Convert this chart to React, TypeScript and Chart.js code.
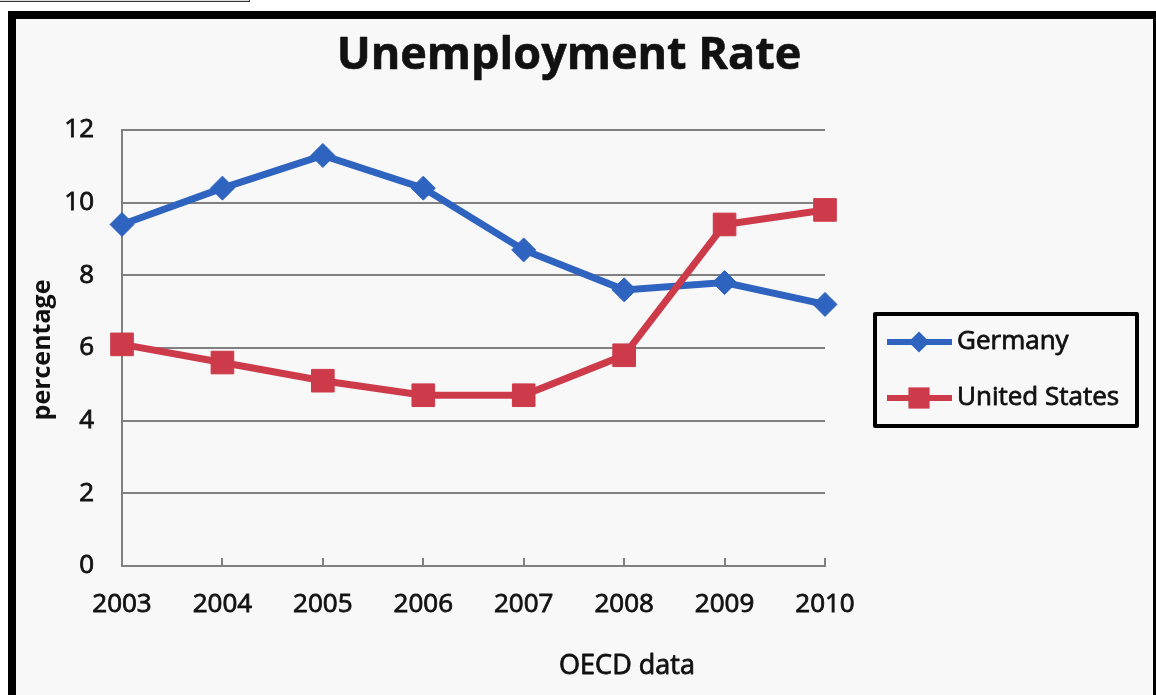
import React, { useEffect, useRef } from 'react';
import { Chart, registerables } from 'chart.js';

Chart.register(...registerables);

// ---- data ----
const chartTitle = 'Unemployment Rate';
const yAxisTitle = 'percentage';
const xAxisTitle = 'OECD data';
const years = ['2003', '2004', '2005', '2006', '2007', '2008', '2009', '2010'];
const germany = [9.4, 10.4, 11.3, 10.4, 8.7, 7.6, 7.8, 7.2];
const unitedStates = [6.1, 5.6, 5.1, 4.7, 4.7, 5.8, 9.4, 9.8];
const seriesNames = ['Germany', 'United States'];
const yMin = 0;
const yMax = 12;
const yStep = 2;

// ---- styles ----
const BLUE = '#2f63c0';
const RED = '#cd3a4a';
const GRID = '#808080';
const TEXT = '#111111';
const FONT = '"Open Sans", "Noto Sans", sans-serif';
const TEXT_STROKE = 0.8;

const CANVAS_W = 1137;
const CANVAS_H = 676;

function drawMarker(ctx: CanvasRenderingContext2D, style: string, x: number, y: number, r: number, color: string) {
  ctx.fillStyle = color;
  ctx.beginPath();
  if (style === 'rectRot') {
    ctx.moveTo(x - r, y);
    ctx.lineTo(x, y - r);
    ctx.lineTo(x + r, y);
    ctx.lineTo(x, y + r);
  } else {
    const s = r * Math.SQRT1_2;
    ctx.rect(x - s, y - s, 2 * s, 2 * s);
  }
  ctx.closePath();
  ctx.fill();
}

function heavyText(ctx: CanvasRenderingContext2D, text: string, x: number, y: number, stroke: number) {
  ctx.fillStyle = TEXT;
  ctx.fillText(text, x, y);
  if (stroke > 0) {
    ctx.strokeStyle = TEXT;
    ctx.lineWidth = stroke;
    ctx.lineJoin = 'round';
    ctx.strokeText(text, x, y);
  }
}

const decor = {
  id: 'decor',
  beforeDatasetsDraw(chart: any) {
    const { ctx, chartArea } = chart;
    const xs = chart.scales.x;
    ctx.save();
    ctx.strokeStyle = GRID;
    ctx.lineWidth = 2;
    xs.ticks.forEach((_: any, i: number) => {
      const px = Math.round(xs.getPixelForTick(i));
      ctx.beginPath();
      ctx.moveTo(px, chartArea.bottom);
      ctx.lineTo(px, chartArea.bottom - 8);
      ctx.stroke();
    });
    ctx.restore();
  },
  afterDraw(chart: any) {
    const { ctx, chartArea } = chart;
    ctx.save();

    // title
    ctx.font = `bold 45px ${FONT}`;
    ctx.textAlign = 'center';
    ctx.textBaseline = 'alphabetic';
    heavyText(ctx, chartTitle, 553, 50, 0.6);

    // y axis title
    ctx.save();
    ctx.translate(27, (chartArea.top + chartArea.bottom) / 2 + 2);
    ctx.rotate(-Math.PI / 2);
    ctx.font = `bold 25px ${FONT}`;
    ctx.textAlign = 'center';
    ctx.textBaseline = 'middle';
    heavyText(ctx, yAxisTitle, 0, 0, 0);
    ctx.restore();

    // x axis title
    ctx.font = `27px ${FONT}`;
    ctx.textAlign = 'center';
    ctx.textBaseline = 'middle';
    heavyText(ctx, xAxisTitle, 611, 647, TEXT_STROKE);

    // legend
    const lx = chartArea.right + 50;
    const ly = 295;
    const lw = 262;
    const lh = 112;
    ctx.strokeStyle = '#000';
    ctx.lineWidth = 4;
    ctx.strokeRect(lx, ly, lw, lh);
    const rows = [ly + 28, ly + 84];
    chart.data.datasets.forEach((ds: any, i: number) => {
      const cy = rows[i];
      ctx.strokeStyle = ds.borderColor;
      ctx.lineWidth = 6;
      ctx.beginPath();
      ctx.moveTo(lx + 12, cy);
      ctx.lineTo(lx + 77, cy);
      ctx.stroke();
      drawMarker(ctx, ds.pointStyle, lx + 44, cy, ds.pointStyle === 'rect' ? 15 : 10.5, ds.borderColor);
      ctx.font = `26px ${FONT}`;
      ctx.textAlign = 'left';
      ctx.textBaseline = 'middle';
      heavyText(ctx, ds.label, lx + 82, cy, TEXT_STROKE);
    });

    ctx.restore();
  },
};

export default function App() {
  const ref = useRef<HTMLCanvasElement>(null);

  useEffect(() => {
    if (!ref.current) return;
    const chart = new Chart(ref.current, {
      type: 'line',
      data: {
        labels: years,
        datasets: [
          {
            label: seriesNames[0],
            data: germany,
            borderColor: BLUE,
            backgroundColor: BLUE,
            borderWidth: 7,
            pointStyle: 'rectRot',
            pointRadius: 12,
            pointBorderWidth: 1,
            pointBorderColor: BLUE,
            pointBackgroundColor: BLUE,
            tension: 0,
            clip: false,
            order: 1,
          },
          {
            label: seriesNames[1],
            data: unitedStates,
            borderColor: RED,
            backgroundColor: RED,
            borderWidth: 7,
            pointStyle: 'rect',
            pointRadius: 16,
            pointBorderWidth: 1,
            pointBorderColor: RED,
            pointBackgroundColor: RED,
            tension: 0,
            clip: false,
            order: 0,
          },
        ],
      } as any,
      options: {
        responsive: false,
        animation: false,
        layout: { padding: { left: 0, right: 328, top: 111, bottom: 0 } },
        plugins: {
          legend: { display: false },
          title: { display: false },
          tooltip: { enabled: false },
        },
        scales: {
          x: {
            offset: false,
            grid: { display: false, drawTicks: false },
            border: { display: true, color: GRID, width: 2 },
            ticks: {
              padding: 23,
              color: TEXT,
              textStrokeColor: TEXT,
              textStrokeWidth: TEXT_STROKE,
              font: { family: FONT, size: 26 },
              maxRotation: 0,
              autoSkip: false,
            },
            afterFit: (s: any) => {
              s.height = 129;
            },
          },
          y: {
            min: yMin,
            max: yMax,
            ticks: {
              stepSize: yStep,
              padding: 28,
              color: TEXT,
              textStrokeColor: TEXT,
              textStrokeWidth: TEXT_STROKE,
              font: { family: FONT, size: 26 },
            },
            grid: { color: GRID, lineWidth: 2, drawTicks: false },
            border: { display: true, color: GRID, width: 2 },
            afterFit: (s: any) => {
              s.width = 106;
            },
          },
        },
      } as any,
      plugins: [decor],
    });
    return () => chart.destroy();
  }, []);

  return (
    <div
      style={{
        position: 'absolute',
        left: 0,
        top: 0,
        width: 1156,
        height: 695,
        overflow: 'hidden',
        background: '#ffffff',
      }}
    >
      <div
        style={{
          position: 'absolute',
          left: -2,
          top: -10,
          width: 250,
          height: 10,
          border: '1px solid #333',
          background: '#dcdcdc',
        }}
      />
      <div
        style={{
          position: 'absolute',
          left: 8,
          top: 11,
          width: CANVAS_W,
          height: 720,
          border: '8px solid #000',
          background: '#f8f8f8',
        }}
      >
        <canvas ref={ref} width={CANVAS_W} height={CANVAS_H} style={{ display: 'block', width: CANVAS_W, height: CANVAS_H }} />
      </div>
    </div>
  );
}
